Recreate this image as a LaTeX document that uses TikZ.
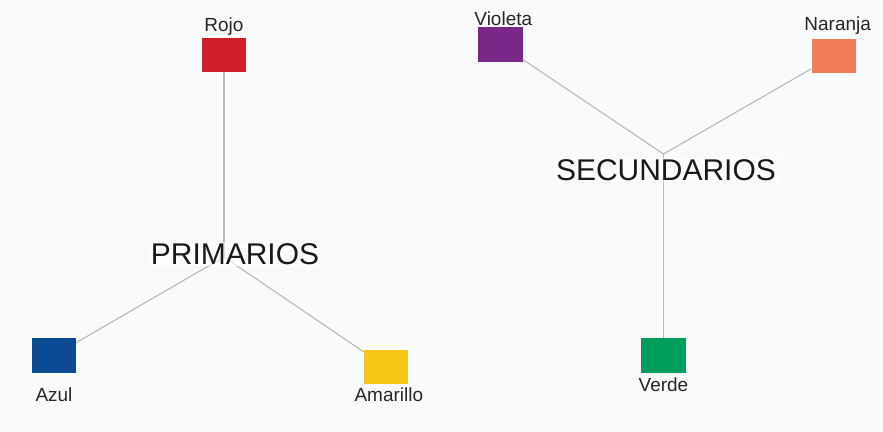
\documentclass[tikz,border=0pt]{standalone}
\usepackage{fontspec}
\setmainfont{Liberation Sans}
\usepackage{xcolor}
\usepackage{tikz}
\usetikzlibrary{positioning}

\definecolor{bgpaper}{RGB}{249,250,250}
\definecolor{raygray}{RGB}{185,185,185}
\definecolor{rojo}{RGB}{208,30,42}
\definecolor{azul}{RGB}{12,74,148}
\definecolor{amarillo}{RGB}{247,198,22}
\definecolor{violeta}{RGB}{122,40,136}
\definecolor{naranja}{RGB}{241,126,86}
\definecolor{verde}{RGB}{0,158,92}

\begin{document}
\begin{tikzpicture}[x=0.025cm,y=-0.025cm,
    swatch/.style={rectangle,minimum width=1.1cm,minimum height=0.86cm,inner sep=0pt},
    lbl/.style={inner sep=0pt,text=black!85,font=\fontsize{13.5}{16}\selectfont},
    grouptitle/.style={inner sep=1pt,fill=white,fill opacity=0.6,text opacity=1,text=black!90,font=\fontsize{21.3}{25}\selectfont},
    ray/.style={draw=raygray,line width=0.8pt}]
    \fill[bgpaper] (0,0) rectangle (883,432);
    \useasboundingbox (0,0) rectangle (883,432);
    \coordinate (hubP) at (224,257);
    \coordinate (hubS) at (663.5,154);
    \node [swatch,fill=rojo] (rojo) at (224,55) {};
    \node [swatch,fill=azul] (azul) at (54,355.5) {};
    \node [swatch,fill=amarillo] (amarillo) at (386,367) {};
    \node [swatch,fill=violeta] (violeta) at (500.5,44.5) {};
    \node [swatch,fill=naranja] (naranja) at (833.5,56) {};
    \node [swatch,fill=verde] (verde) at (663.5,355.5) {};
    \draw[ray] (hubP) -- (rojo);
    \draw[ray] (hubP) -- (azul);
    \draw[ray] (hubP) -- (amarillo);
    \draw[ray] (hubS) -- (violeta);
    \draw[ray] (hubS) -- (naranja);
    \draw[ray] (hubS) -- (verde);
    \node [grouptitle] (primarios) at (235,254) {PRIMARIOS};
    \node [grouptitle] (secundarios) at (666,170) {SECUNDARIOS};
    \node [lbl,above=1pt of rojo] (tRojo) {Rojo};
    \node [lbl,above=1pt of violeta,xshift=2pt] (tVioleta) {Violeta};
    \node [lbl,above=3pt of naranja,xshift=3pt] (tNaranja) {Naranja};
    \node [lbl,below=10pt of azul] (tAzul) {Azul};
    \node [lbl,below=2pt of amarillo,xshift=2pt] (tAmarillo) {Amarillo};
    \node [lbl,below=3pt of verde] (tVerde) {Verde};
\end{tikzpicture}
\end{document}
